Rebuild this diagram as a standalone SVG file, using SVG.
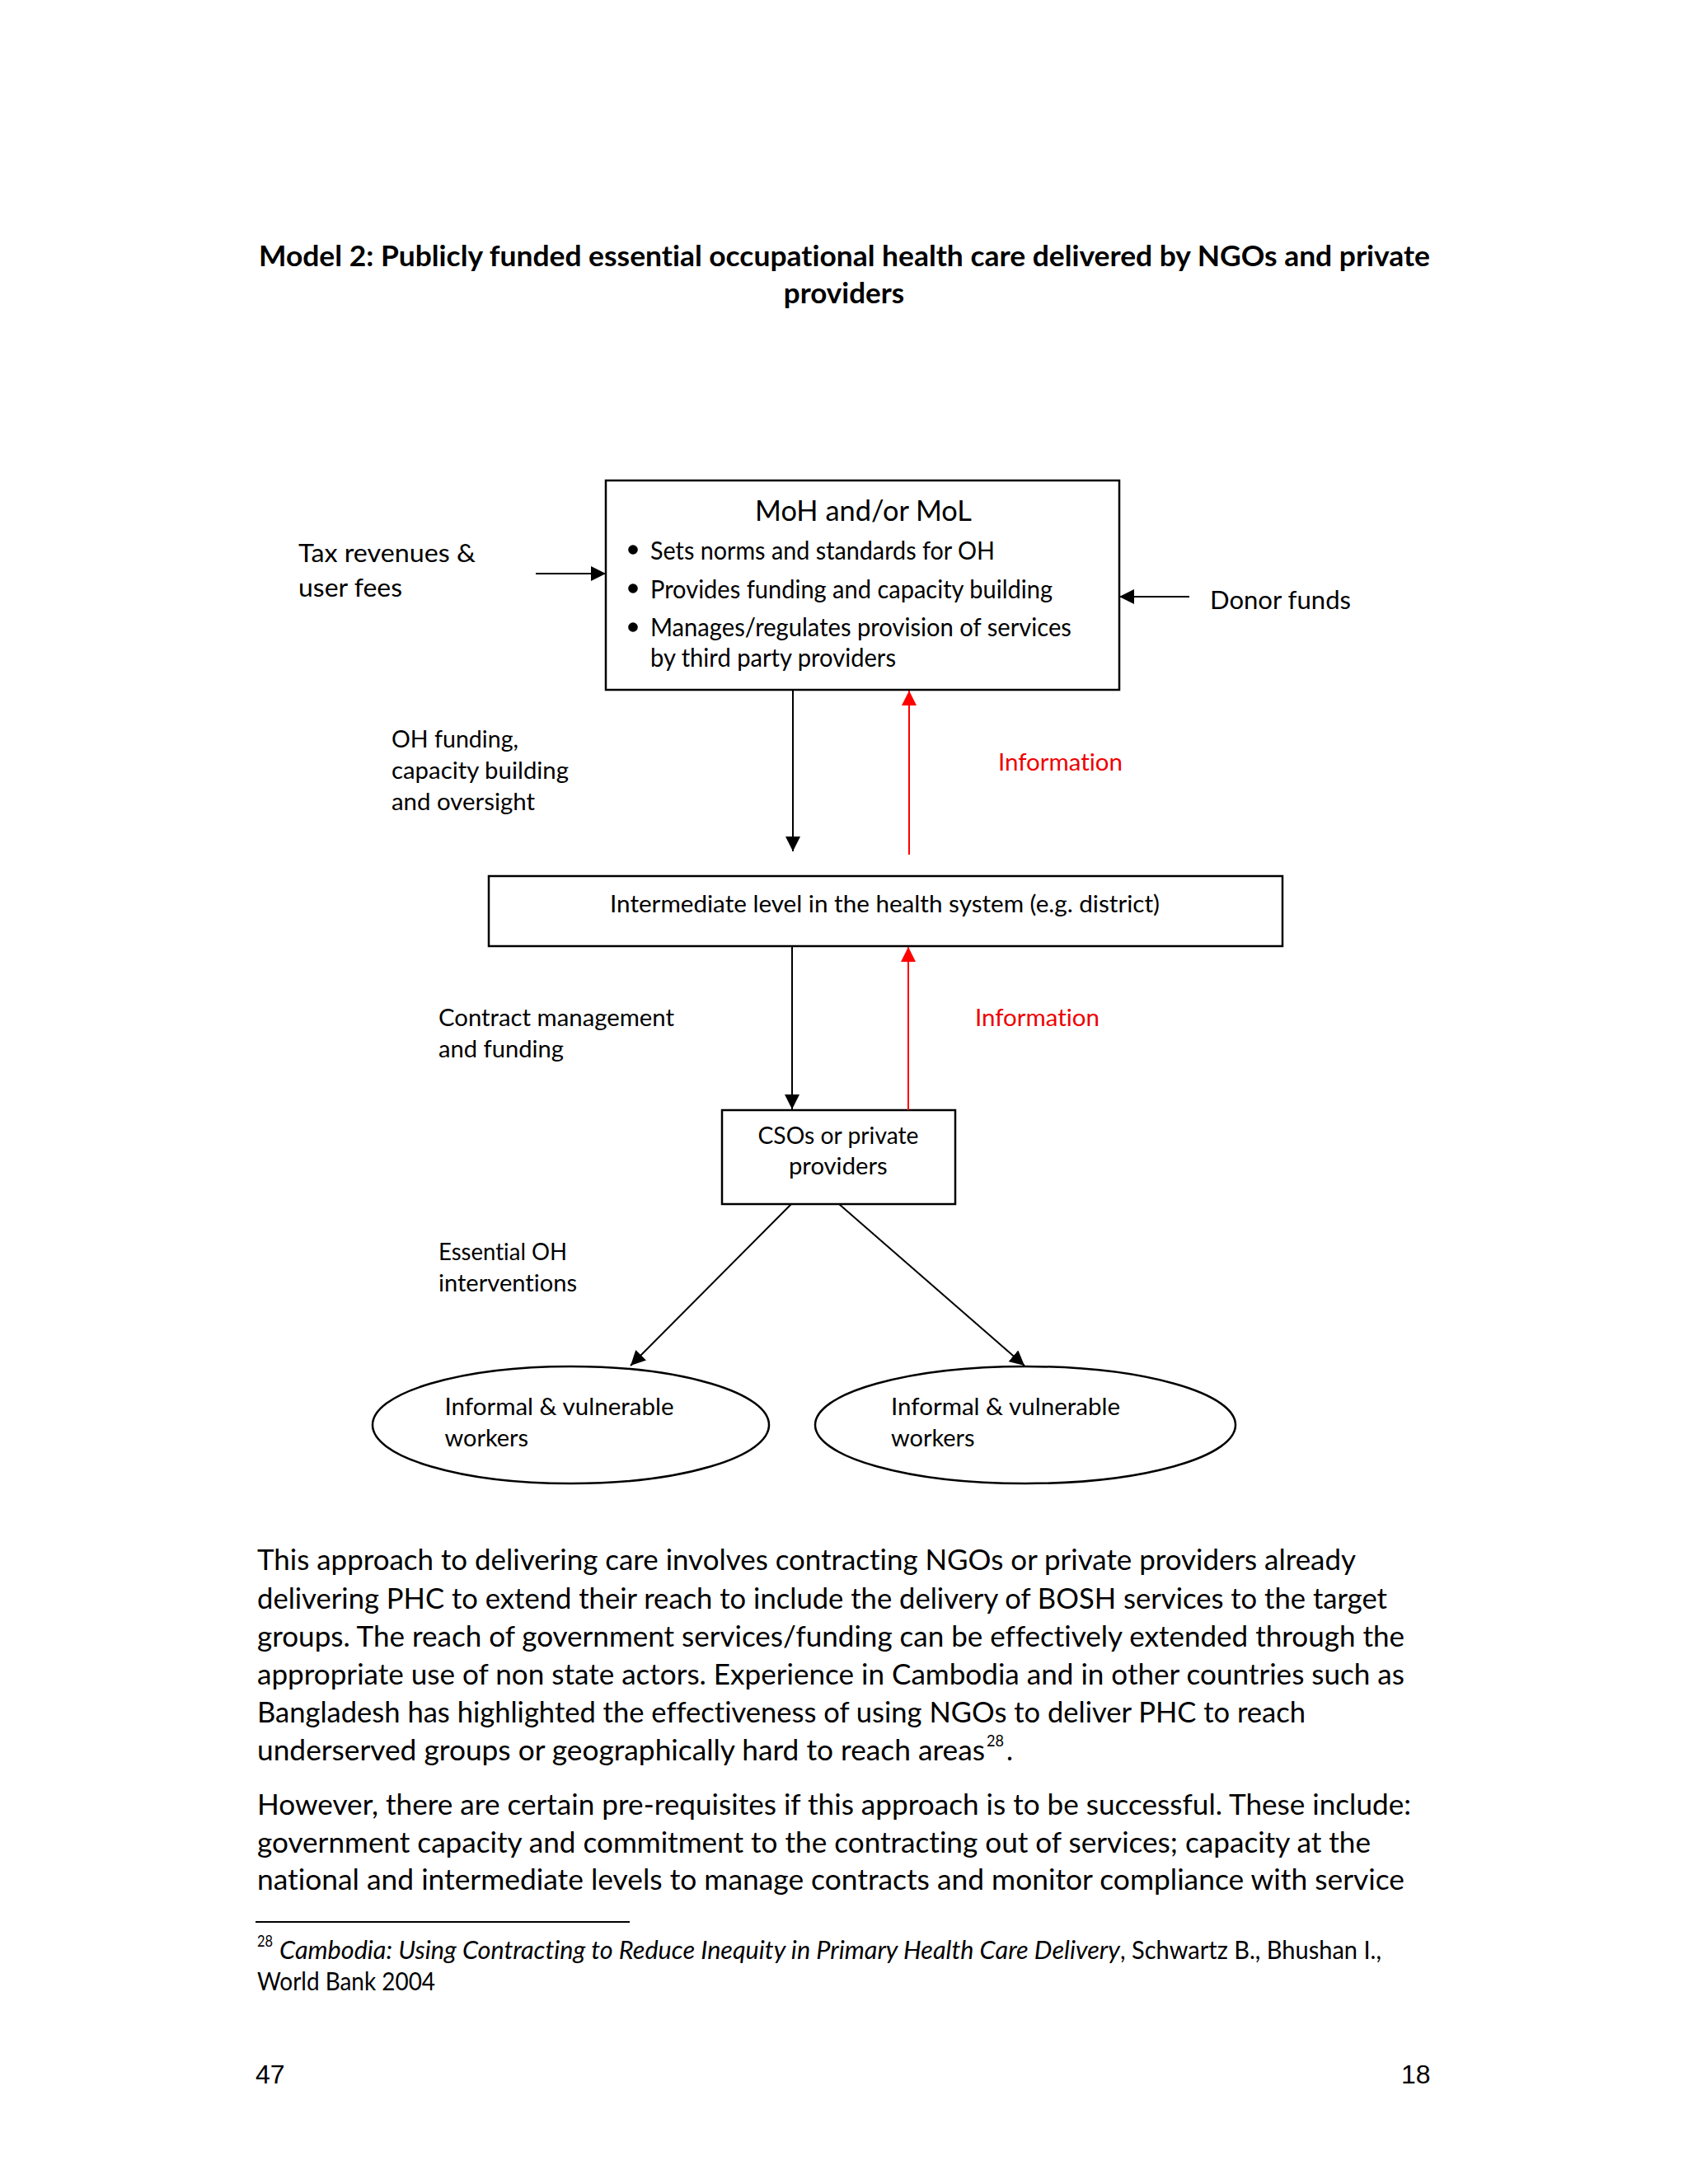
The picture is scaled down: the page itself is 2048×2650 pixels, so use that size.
<svg xmlns="http://www.w3.org/2000/svg" width="2048" height="2650" viewBox="0 0 2048 2650">
<style>
text{font-family:Lato,"Open Sans","Liberation Sans",sans-serif;fill:#000;font-variant-ligatures:none;font-feature-settings:"liga" 0}
.title{font-size:35px;font-weight:bold}
.lbl{font-size:28.5px}
.red{fill:#ee0000}
.boxt{font-size:34px}
.bul{font-size:30px}
.body{font-size:34px}
.fn{font-size:30px}
.sup{font-size:20px}
.pg{font-family:"Liberation Sans",Arial,sans-serif;font-size:32px}
.box{fill:#fff;stroke:#000;stroke-width:2.5}
.ln{stroke:#000;stroke-width:2;fill:none}
.lnr{stroke:#ff0000;stroke-width:2;fill:none}
</style>
<defs>
<marker id="ah" markerUnits="userSpaceOnUse" markerWidth="20" markerHeight="20" refX="18" refY="9" orient="auto">
<path d="M0,0 L18,9 L0,18 z" fill="#000"/>
</marker>
<marker id="ahr" markerUnits="userSpaceOnUse" markerWidth="20" markerHeight="20" refX="18" refY="9" orient="auto">
<path d="M0,0 L18,9 L0,18 z" fill="#ff0000"/>
</marker>
</defs>
<rect width="2048" height="2650" fill="#fff"/>

<g id="title">
<text class="title" x="314" y="323" textLength="1421" lengthAdjust="spacingAndGlyphs">Model 2: Publicly funded essential occupational health care delivered by NGOs and private</text>
<text class="title" x="1024" y="368" text-anchor="middle">providers</text>
</g>

<g id="node-moh">
<rect class="box" x="735" y="583" width="623" height="254"/>
<text class="boxt" x="916" y="632" textLength="263" lengthAdjust="spacingAndGlyphs">MoH and/or MoL</text>
<circle cx="768" cy="667" r="5.8"/>
<circle cx="768" cy="714" r="5.8"/>
<circle cx="768" cy="761" r="5.8"/>
<text class="bul" x="789" y="679" textLength="418" lengthAdjust="spacingAndGlyphs">Sets norms and standards for OH</text>
<text class="bul" x="789" y="726" textLength="488" lengthAdjust="spacingAndGlyphs">Provides funding and capacity building</text>
<text class="bul" x="789" y="772" textLength="511" lengthAdjust="spacingAndGlyphs">Manages/regulates provision of services</text>
<text class="bul" x="789" y="809" textLength="298" lengthAdjust="spacingAndGlyphs">by third party providers</text>
</g>

<g id="node-intermediate">
<rect class="box" x="593" y="1063" width="963" height="85"/>
<text class="lbl" x="740" y="1107" textLength="667" lengthAdjust="spacingAndGlyphs">Intermediate level in the health system (e.g. district)</text>
</g>

<g id="node-cso">
<rect class="box" x="876" y="1347" width="283" height="114"/>
<text class="lbl" x="919.5" y="1388" textLength="195" lengthAdjust="spacingAndGlyphs">CSOs or private</text>
<text class="lbl" x="957" y="1425" textLength="119.6" lengthAdjust="spacingAndGlyphs">providers</text>
</g>

<g id="node-workers-1">
<ellipse class="box" cx="692.5" cy="1729" rx="240.5" ry="71"/>
<text class="lbl" x="539.5" y="1717" textLength="278" lengthAdjust="spacingAndGlyphs">Informal &amp; vulnerable</text>
<text class="lbl" x="539.5" y="1755" textLength="101.6" lengthAdjust="spacingAndGlyphs">workers</text>
</g>

<g id="node-workers-2">
<ellipse class="box" cx="1244" cy="1729" rx="255" ry="71"/>
<text class="lbl" x="1081" y="1717" textLength="278" lengthAdjust="spacingAndGlyphs">Informal &amp; vulnerable</text>
<text class="lbl" x="1081" y="1755" textLength="101.6" lengthAdjust="spacingAndGlyphs">workers</text>
</g>

<g id="connectors">
<line class="ln" x1="650" y1="696" x2="735" y2="696" marker-end="url(#ah)"/>
<line class="ln" x1="1443" y1="724" x2="1358" y2="724" marker-end="url(#ah)"/>
<line class="ln" x1="962" y1="837" x2="962" y2="1033" marker-end="url(#ah)"/>
<line class="lnr" x1="1103" y1="1037" x2="1103" y2="838" marker-end="url(#ahr)"/>
<line class="ln" x1="961" y1="1148" x2="961" y2="1346" marker-end="url(#ah)"/>
<line class="lnr" x1="1102" y1="1347" x2="1102" y2="1149" marker-end="url(#ahr)"/>
<line class="ln" x1="960" y1="1461" x2="765" y2="1657" marker-end="url(#ah)"/>
<line class="ln" x1="1018" y1="1461" x2="1243" y2="1657" marker-end="url(#ah)"/>
</g>

<g id="connector-labels">
<text class="lbl" x="362" y="682" textLength="215" lengthAdjust="spacingAndGlyphs" style="font-size:31px">Tax revenues &amp;</text>
<text class="lbl" x="362" y="724" textLength="126" lengthAdjust="spacingAndGlyphs" style="font-size:31px">user fees</text>
<text class="lbl" x="1468" y="739" textLength="171" lengthAdjust="spacingAndGlyphs" style="font-size:31px">Donor funds</text>
<text class="lbl" x="475" y="907" textLength="154" lengthAdjust="spacingAndGlyphs">OH funding,</text>
<text class="lbl" x="475" y="945" textLength="215" lengthAdjust="spacingAndGlyphs">capacity building</text>
<text class="lbl" x="475" y="983" textLength="174" lengthAdjust="spacingAndGlyphs">and oversight</text>
<text class="lbl red" x="1211" y="935" textLength="151" lengthAdjust="spacingAndGlyphs">Information</text>
<text class="lbl" x="532" y="1245" textLength="286" lengthAdjust="spacingAndGlyphs">Contract management</text>
<text class="lbl" x="532" y="1283" textLength="152" lengthAdjust="spacingAndGlyphs">and funding</text>
<text class="lbl red" x="1183" y="1245" textLength="151" lengthAdjust="spacingAndGlyphs">Information</text>
<text class="lbl" x="532" y="1529" textLength="156" lengthAdjust="spacingAndGlyphs">Essential OH</text>
<text class="lbl" x="532" y="1567" textLength="168" lengthAdjust="spacingAndGlyphs">interventions</text>
</g>

<g id="body-text">
<text class="body" x="312" y="1905" textLength="1333" lengthAdjust="spacingAndGlyphs">This approach to delivering care involves contracting NGOs or private providers already</text>
<text class="body" x="312" y="1952" textLength="1371" lengthAdjust="spacingAndGlyphs">delivering PHC to extend their reach to include the delivery of BOSH services to the target</text>
<text class="body" x="312" y="1998" textLength="1392" lengthAdjust="spacingAndGlyphs">groups. The reach of government services/funding can be effectively extended through the</text>
<text class="body" x="312" y="2044" textLength="1392" lengthAdjust="spacingAndGlyphs">appropriate use of non state actors. Experience in Cambodia and in other countries such as</text>
<text class="body" x="312" y="2090" textLength="1272" lengthAdjust="spacingAndGlyphs">Bangladesh has highlighted the effectiveness of using NGOs to deliver PHC to reach</text>
<text class="body" x="312" y="2136" textLength="883" lengthAdjust="spacingAndGlyphs">underserved groups or geographically hard to reach areas</text>
<text class="sup" x="1197" y="2119" textLength="21" lengthAdjust="spacingAndGlyphs">28</text>
<text class="body" x="1221" y="2136">.</text>
<text class="body" x="312" y="2202" textLength="1400" lengthAdjust="spacingAndGlyphs">However, there are certain pre-requisites if this approach is to be successful. These include:</text>
<text class="body" x="312" y="2248" textLength="1351" lengthAdjust="spacingAndGlyphs">government capacity and commitment to the contracting out of services; capacity at the</text>
<text class="body" x="312" y="2293" textLength="1392" lengthAdjust="spacingAndGlyphs">national and intermediate levels to manage contracts and monitor compliance with service</text>
</g>

<g id="footnote">
<line x1="310" y1="2332" x2="764" y2="2332" stroke="#000" stroke-width="2"/>
<text class="sup" x="312" y="2362" textLength="19" lengthAdjust="spacingAndGlyphs">28</text>
<text class="fn" x="339" y="2377" font-style="italic" textLength="1020" lengthAdjust="spacingAndGlyphs">Cambodia: Using Contracting to Reduce Inequity in Primary Health Care Delivery</text>
<text class="fn" x="1359" y="2377" textLength="317" lengthAdjust="spacingAndGlyphs">, Schwartz B., Bhushan I.,</text>
<text class="fn" x="312" y="2415" textLength="216" lengthAdjust="spacingAndGlyphs">World Bank 2004</text>
</g>

<g id="page-numbers">
<text class="pg" x="310" y="2528">47</text>
<text class="pg" x="1700" y="2528">18</text>
</g>
</svg>
